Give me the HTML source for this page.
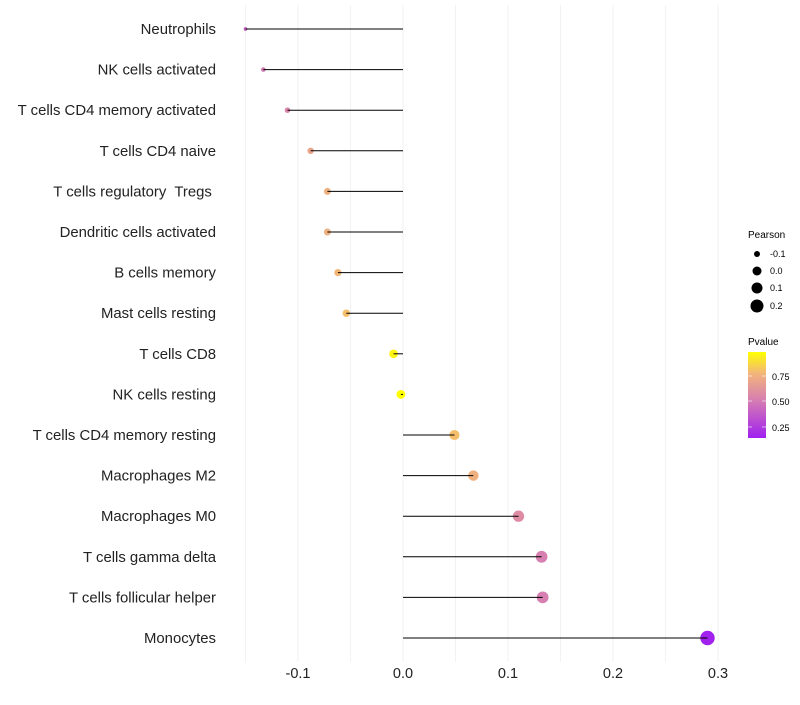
<!DOCTYPE html>
<html><head><meta charset="utf-8"><style>
body{margin:0;background:#fff;font-family:"Liberation Sans",sans-serif}
text{white-space:pre}
</style></head><body>
<svg id="chart" width="800" height="700" xmlns="http://www.w3.org/2000/svg">
<defs><linearGradient id="pg" x1="0" y1="1" x2="0" y2="0">
<stop offset="0" stop-color="#A020F0"/><stop offset="0.45" stop-color="#D77FB0"/><stop offset="0.75" stop-color="#F2B57A"/><stop offset="1" stop-color="#FFFF00"/></linearGradient></defs>
<g id="grid"></g><g id="points"></g><g id="marks"></g><g id="labels"></g>
<g font-size="9" fill="#000">
<text x="748" y="238" font-size="10">Pearson</text>
<circle cx="757" cy="254" r="3"/><text x="770" y="257">-0.1</text>
<circle cx="757" cy="271" r="4.5"/><text x="770" y="274">0.0</text>
<circle cx="757" cy="288" r="5.5"/><text x="770" y="291">0.1</text>
<circle cx="757" cy="306" r="6.5"/><text x="770" y="309">0.2</text>
</g>
<g font-size="9">
<text x="748" y="345" font-size="10">Pvalue</text>
<rect x="748" y="352" width="18" height="86" fill="url(#pg)"/>
<line x1="748" x2="752" y1="376" y2="376" stroke="#fff" opacity="0.6"/><line x1="762" x2="766" y1="376" y2="376" stroke="#fff" opacity="0.6"/>
<line x1="748" x2="752" y1="401" y2="401" stroke="#fff" opacity="0.6"/><line x1="762" x2="766" y1="401" y2="401" stroke="#fff" opacity="0.6"/>
<line x1="748" x2="752" y1="427" y2="427" stroke="#fff" opacity="0.6"/><line x1="762" x2="766" y1="427" y2="427" stroke="#fff" opacity="0.6"/>
<text x="772" y="380">0.75</text><text x="772" y="405">0.50</text><text x="772" y="431">0.25</text>
</g>
</svg>
<script>
const categories=["Neutrophils","NK cells activated","T cells CD4 memory activated","T cells CD4 naive","T cells regulatory  Tregs ","Dendritic cells activated","B cells memory","Mast cells resting","T cells CD8","NK cells resting","T cells CD4 memory resting","Macrophages M2","Macrophages M0","T cells gamma delta","T cells follicular helper","Monocytes"];
const pearson=[-0.150,-0.133,-0.110,-0.088,-0.072,-0.072,-0.062,-0.054,-0.009,-0.002,0.049,0.067,0.110,0.132,0.133,0.290];
const pvalue=[0.40,0.50,0.55,0.70,0.75,0.75,0.78,0.80,0.95,0.99,0.80,0.75,0.58,0.52,0.52,0.15];
const xTicks=[-0.1,0,0.1,0.2,0.3];
const xTickLabels=["-0.1","0.0","0.1","0.2","0.3"];
const NS="http://www.w3.org/2000/svg";
const x=v=>403+v*1050;
const y=i=>29+i*40.6;
function el(t,a,p){const e=document.createElementNS(NS,t);for(const k in a)e.setAttribute(k,a[k]);document.getElementById(p).appendChild(e);return e;}
function col(p){const t=Math.max(0,Math.min(1,(p-0.14)/(0.985-0.14)));
const st=[[0,[160,32,240]],[0.45,[215,127,176]],[0.75,[242,181,122]],[1,[255,255,0]]];
for(let i=1;i<st.length;i++){if(t<=st[i][0]){const f=(t-st[i-1][0])/(st[i][0]-st[i-1][0]);const c=st[i-1][1].map((v,j)=>Math.round(v+(st[i][1][j]-v)*f));return`rgb(${c})`;}}return"rgb(255,255,0)";}
for(let v=-0.15;v<=0.3001;v+=0.05){const g=el("line",{x1:x(v),x2:x(v),y1:5,y2:662,stroke:"#f2f2f2","stroke-width":1},"grid");

}
xTicks.forEach((v,i)=>{const t=el("text",{x:x(v),y:678,"text-anchor":"middle","font-size":14.5,fill:"#222"},"labels");t.textContent=xTickLabels[i];

});
categories.forEach((c,i)=>{
const t=el("text",{x:216,y:y(i)+5,"text-anchor":"end","font-size":14.9,fill:"#222"},"labels");t.textContent=c;


const l=el("line",{x1:x(0),x2:x(pearson[i]),y1:y(i),y2:y(i),stroke:"#000","stroke-width":1},"marks");


const r=Math.sqrt(Math.max(1,20+110*pearson[i]));
const d=el("circle",{cx:x(pearson[i]),cy:y(i),r:r,fill:col(pvalue[i])},"points");


});
</script>
</body></html>
